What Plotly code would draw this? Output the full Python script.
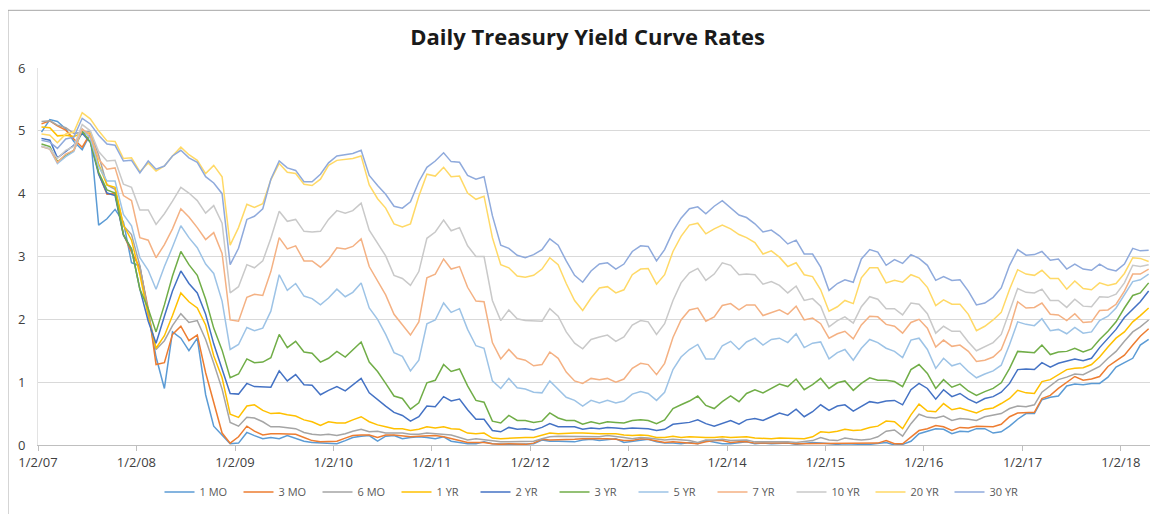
import plotly.graph_objects as go

# monthly readings (mid-month), Jan 2007 .. Apr 2018
dates = [f"{y}-{m:02d}-15" for y in range(2007, 2019) for m in range(1, 13)][:136]

series_names = ["1 MO", "3 MO", "6 MO", "1 YR", "2 YR", "3 YR", "5 YR", "7 YR", "10 YR", "20 YR", "30 YR"]
series_colors = ["#5B9BD5", "#ED7D31", "#A5A5A5", "#FFC000", "#4472C4", "#70AD47",
                 "#9DC3E6", "#F4B183", "#C9C9C9", "#FFD966", "#8FAADC"]

mo1 = [
    4.98, 5.18, 5.15, 5.03, 4.83, 4.70, 4.95, 3.50, 3.60, 3.75, 3.55, 2.90,
    2.85, 2.10, 1.40, 0.90, 1.80, 1.70, 1.50, 1.70, 0.80, 0.30, 0.15, 0.02,
    0.03, 0.20, 0.15, 0.10, 0.12, 0.10, 0.15, 0.11, 0.06, 0.04, 0.03, 0.02,
    0.02, 0.07, 0.12, 0.14, 0.15, 0.06, 0.14, 0.15, 0.10, 0.12, 0.13, 0.12,
    0.10, 0.13, 0.06, 0.04, 0.02, 0.02, 0.05, 0.02, 0.01, 0.01, 0.01, 0.01,
    0.02, 0.08, 0.06, 0.06, 0.05, 0.05, 0.08, 0.09, 0.07, 0.09, 0.10, 0.04,
    0.06, 0.07, 0.09, 0.05, 0.03, 0.03, 0.02, 0.04, 0.02, 0.07, 0.05, 0.02,
    0.02, 0.04, 0.05, 0.02, 0.03, 0.02, 0.02, 0.03, 0.01, 0.02, 0.04, 0.03,
    0.02, 0.01, 0.02, 0.01, 0.01, 0.01, 0.02, 0.04, 0.00, 0.01, 0.06, 0.18,
    0.22, 0.26, 0.25, 0.18, 0.22, 0.21, 0.26, 0.26, 0.19, 0.21, 0.30, 0.41,
    0.50, 0.50, 0.72, 0.76, 0.78, 0.94, 0.97, 0.96, 0.98, 0.98, 1.08, 1.24,
    1.31, 1.38, 1.59, 1.68,
]
mo3 = [
    5.11, 5.16, 5.08, 5.01, 4.87, 4.74, 4.96, 4.32, 3.99, 4.00, 3.35, 3.07,
    2.82, 2.17, 1.28, 1.31, 1.76, 1.89, 1.66, 1.75, 1.15, 0.69, 0.19, 0.03,
    0.13, 0.30, 0.22, 0.16, 0.18, 0.18, 0.18, 0.17, 0.12, 0.07, 0.05, 0.05,
    0.06, 0.11, 0.15, 0.16, 0.16, 0.12, 0.16, 0.16, 0.15, 0.13, 0.14, 0.14,
    0.15, 0.13, 0.10, 0.06, 0.04, 0.04, 0.04, 0.02, 0.01, 0.02, 0.01, 0.01,
    0.03, 0.09, 0.08, 0.08, 0.09, 0.09, 0.10, 0.10, 0.11, 0.10, 0.09, 0.07,
    0.07, 0.10, 0.09, 0.06, 0.04, 0.05, 0.04, 0.04, 0.02, 0.05, 0.07, 0.07,
    0.04, 0.05, 0.05, 0.03, 0.03, 0.04, 0.03, 0.03, 0.02, 0.02, 0.02, 0.03,
    0.03, 0.02, 0.03, 0.02, 0.02, 0.02, 0.03, 0.07, 0.02, 0.02, 0.13, 0.23,
    0.26, 0.31, 0.29, 0.23, 0.28, 0.27, 0.30, 0.30, 0.29, 0.33, 0.45, 0.51,
    0.51, 0.52, 0.74, 0.79, 0.90, 1.00, 1.09, 1.03, 1.05, 1.09, 1.25, 1.34,
    1.43, 1.59, 1.73, 1.85,
]
mo6 = [
    5.15, 5.16, 5.09, 5.05, 4.96, 4.98, 4.99, 4.61, 4.14, 4.07, 3.49, 3.35,
    2.85, 2.11, 1.52, 1.66, 1.90, 2.09, 1.95, 1.98, 1.68, 1.30, 0.89, 0.36,
    0.30, 0.44, 0.43, 0.37, 0.29, 0.29, 0.28, 0.26, 0.20, 0.17, 0.16, 0.17,
    0.15, 0.18, 0.22, 0.25, 0.21, 0.22, 0.19, 0.19, 0.19, 0.17, 0.17, 0.19,
    0.18, 0.16, 0.16, 0.12, 0.08, 0.10, 0.08, 0.06, 0.05, 0.05, 0.05, 0.05,
    0.06, 0.10, 0.13, 0.14, 0.14, 0.14, 0.14, 0.13, 0.13, 0.15, 0.14, 0.12,
    0.10, 0.12, 0.11, 0.09, 0.08, 0.09, 0.08, 0.07, 0.04, 0.08, 0.08, 0.09,
    0.07, 0.08, 0.08, 0.05, 0.05, 0.06, 0.06, 0.05, 0.04, 0.05, 0.07, 0.12,
    0.08, 0.07, 0.11, 0.09, 0.08, 0.09, 0.13, 0.22, 0.24, 0.14, 0.34, 0.49,
    0.44, 0.43, 0.46, 0.39, 0.42, 0.41, 0.39, 0.45, 0.47, 0.50, 0.58, 0.62,
    0.61, 0.64, 0.84, 0.94, 1.04, 1.08, 1.13, 1.12, 1.19, 1.25, 1.38, 1.49,
    1.65, 1.80, 1.88, 1.99,
]
yr1 = [
    5.06, 5.05, 4.92, 4.93, 4.91, 4.96, 4.96, 4.47, 4.14, 4.10, 3.50, 3.26,
    2.71, 2.05, 1.54, 1.74, 2.06, 2.42, 2.28, 2.18, 1.91, 1.42, 1.07, 0.49,
    0.44, 0.62, 0.64, 0.55, 0.50, 0.51, 0.48, 0.46, 0.40, 0.37, 0.31, 0.37,
    0.35, 0.35, 0.40, 0.45, 0.37, 0.32, 0.29, 0.26, 0.26, 0.23, 0.25, 0.29,
    0.27, 0.29, 0.26, 0.25, 0.19, 0.18, 0.19, 0.11, 0.10, 0.11, 0.11, 0.12,
    0.12, 0.16, 0.19, 0.18, 0.19, 0.19, 0.19, 0.18, 0.18, 0.18, 0.18, 0.16,
    0.15, 0.16, 0.15, 0.12, 0.12, 0.14, 0.12, 0.13, 0.12, 0.12, 0.12, 0.13,
    0.12, 0.12, 0.13, 0.11, 0.10, 0.10, 0.11, 0.11, 0.11, 0.10, 0.13, 0.21,
    0.20, 0.22, 0.25, 0.23, 0.24, 0.28, 0.30, 0.38, 0.37, 0.26, 0.48, 0.65,
    0.54, 0.53, 0.66, 0.56, 0.59, 0.55, 0.51, 0.57, 0.59, 0.66, 0.74, 0.87,
    0.83, 0.82, 1.01, 1.04, 1.12, 1.20, 1.22, 1.23, 1.28, 1.40, 1.56, 1.70,
    1.80, 1.96, 2.06, 2.18,
]
yr2 = [
    4.88, 4.85, 4.57, 4.67, 4.77, 4.96, 4.82, 4.31, 4.01, 3.97, 3.34, 3.12,
    2.48, 1.97, 1.62, 2.05, 2.45, 2.77, 2.57, 2.42, 2.08, 1.61, 1.21, 0.82,
    0.81, 0.98, 0.93, 0.93, 0.92, 1.18, 1.02, 1.12, 0.96, 0.95, 0.80, 0.87,
    0.93, 0.86, 0.96, 1.06, 0.83, 0.72, 0.62, 0.52, 0.47, 0.38, 0.45, 0.62,
    0.61, 0.77, 0.70, 0.73, 0.56, 0.41, 0.41, 0.23, 0.21, 0.28, 0.25, 0.26,
    0.24, 0.28, 0.34, 0.29, 0.29, 0.29, 0.25, 0.27, 0.26, 0.28, 0.27, 0.26,
    0.27, 0.27, 0.26, 0.23, 0.25, 0.33, 0.34, 0.36, 0.40, 0.34, 0.30, 0.34,
    0.39, 0.33, 0.40, 0.42, 0.39, 0.45, 0.51, 0.47, 0.57, 0.45, 0.53, 0.64,
    0.55, 0.62, 0.64, 0.54, 0.61, 0.69, 0.67, 0.70, 0.71, 0.64, 0.88, 0.98,
    0.90, 0.73, 0.88, 0.77, 0.82, 0.73, 0.67, 0.74, 0.77, 0.84, 0.98, 1.20,
    1.21, 1.20, 1.31, 1.24, 1.30, 1.34, 1.37, 1.34, 1.38, 1.55, 1.70, 1.84,
    2.03, 2.17, 2.28, 2.45,
]
yr3 = [
    4.79, 4.75, 4.51, 4.60, 4.69, 5.00, 4.82, 4.34, 4.06, 4.01, 3.35, 3.12,
    2.48, 2.17, 1.80, 2.23, 2.69, 3.08, 2.87, 2.70, 2.32, 1.86, 1.51, 1.07,
    1.13, 1.37, 1.31, 1.32, 1.39, 1.76, 1.55, 1.65, 1.48, 1.46, 1.32, 1.38,
    1.49, 1.40, 1.51, 1.64, 1.32, 1.17, 0.98, 0.78, 0.74, 0.57, 0.67, 0.99,
    1.03, 1.28, 1.17, 1.21, 0.94, 0.71, 0.68, 0.38, 0.35, 0.47, 0.39, 0.39,
    0.36, 0.38, 0.51, 0.43, 0.39, 0.39, 0.33, 0.37, 0.34, 0.37, 0.36, 0.35,
    0.39, 0.40, 0.39, 0.34, 0.40, 0.58, 0.64, 0.70, 0.78, 0.63, 0.58, 0.69,
    0.78, 0.69, 0.82, 0.88, 0.83, 0.90, 0.97, 0.93, 1.05, 0.88, 0.96, 1.06,
    0.90, 0.99, 1.02, 0.87, 0.98, 1.07, 1.03, 1.03, 1.01, 0.93, 1.20, 1.28,
    1.14, 0.90, 1.04, 0.92, 0.97, 0.86, 0.79, 0.85, 0.90, 0.99, 1.22, 1.49,
    1.48, 1.47, 1.59, 1.44, 1.48, 1.49, 1.54, 1.48, 1.53, 1.68, 1.81, 1.96,
    2.18, 2.38, 2.42, 2.58,
]
yr5 = [
    4.75, 4.71, 4.48, 4.59, 4.67, 5.03, 4.88, 4.43, 4.20, 4.20, 3.67, 3.49,
    2.98, 2.78, 2.48, 2.84, 3.15, 3.49, 3.30, 3.14, 2.88, 2.73, 2.29, 1.52,
    1.60, 1.87, 1.82, 1.86, 2.13, 2.71, 2.46, 2.57, 2.37, 2.33, 2.23, 2.34,
    2.48, 2.36, 2.43, 2.58, 2.18, 2.00, 1.76, 1.47, 1.41, 1.18, 1.35, 1.93,
    1.99, 2.26, 2.11, 2.17, 1.84, 1.58, 1.54, 1.02, 0.90, 1.06, 0.91, 0.89,
    0.84, 0.83, 1.02, 0.89, 0.76, 0.71, 0.62, 0.71, 0.67, 0.71, 0.67, 0.70,
    0.81, 0.85, 0.82, 0.71, 0.84, 1.20, 1.40, 1.52, 1.60, 1.37, 1.37, 1.58,
    1.65, 1.52, 1.64, 1.70, 1.59, 1.68, 1.70, 1.63, 1.77, 1.55, 1.62, 1.64,
    1.37, 1.47, 1.52, 1.35, 1.54, 1.68, 1.63, 1.54, 1.49, 1.39, 1.67, 1.70,
    1.52, 1.22, 1.38, 1.26, 1.30, 1.17, 1.07, 1.13, 1.18, 1.27, 1.60, 1.96,
    1.92, 1.90, 2.01, 1.82, 1.84, 1.77, 1.87, 1.78, 1.80, 1.98, 2.05, 2.18,
    2.38, 2.60, 2.63, 2.72,
]
yr7 = [
    4.75, 4.71, 4.50, 4.63, 4.69, 5.03, 4.93, 4.55, 4.39, 4.41, 3.97, 3.89,
    3.30, 3.26, 2.98, 3.19, 3.44, 3.76, 3.63, 3.46, 3.27, 3.38, 3.05, 1.99,
    1.97, 2.35, 2.40, 2.38, 2.76, 3.30, 3.12, 3.17, 2.93, 2.93, 2.83, 2.95,
    3.14, 3.12, 3.16, 3.28, 2.84, 2.61, 2.39, 2.08, 1.91, 1.75, 1.96, 2.66,
    2.72, 2.96, 2.80, 2.84, 2.51, 2.29, 2.28, 1.63, 1.37, 1.52, 1.38, 1.35,
    1.26, 1.28, 1.48, 1.38, 1.16, 1.02, 0.98, 1.06, 1.04, 1.06, 1.00, 1.05,
    1.22, 1.30, 1.28, 1.12, 1.30, 1.71, 1.99, 2.15, 2.18, 1.97, 2.04, 2.22,
    2.25, 2.15, 2.23, 2.23, 2.06, 2.10, 2.15, 2.08, 2.21, 1.99, 2.02, 1.93,
    1.70, 1.77, 1.81, 1.69, 1.91, 2.05, 2.04, 1.92, 1.89, 1.78, 1.95, 2.00,
    1.86, 1.56, 1.67, 1.57, 1.59, 1.49, 1.33, 1.35, 1.40, 1.52, 1.85, 2.28,
    2.18, 2.19, 2.26, 2.08, 2.07, 1.98, 2.09, 1.95, 1.96, 2.14, 2.15, 2.24,
    2.45, 2.72, 2.72, 2.80,
]
yr10 = [
    4.76, 4.72, 4.56, 4.69, 4.75, 5.10, 5.00, 4.67, 4.52, 4.53, 4.15, 4.10,
    3.74, 3.74, 3.51, 3.68, 3.88, 4.10, 4.01, 3.89, 3.69, 3.81, 3.53, 2.42,
    2.52, 2.87, 2.82, 2.93, 3.29, 3.72, 3.56, 3.59, 3.40, 3.39, 3.40, 3.59,
    3.73, 3.69, 3.73, 3.85, 3.42, 3.20, 3.01, 2.70, 2.65, 2.54, 2.76, 3.29,
    3.39, 3.58, 3.41, 3.46, 3.17, 3.00, 3.00, 2.30, 1.98, 2.15, 2.01, 1.98,
    1.97, 1.97, 2.17, 2.05, 1.80, 1.62, 1.53, 1.68, 1.72, 1.75, 1.65, 1.72,
    1.91, 1.98, 1.96, 1.76, 1.93, 2.30, 2.58, 2.74, 2.81, 2.62, 2.72, 2.90,
    2.86, 2.71, 2.72, 2.71, 2.56, 2.60, 2.54, 2.42, 2.53, 2.30, 2.33, 2.21,
    1.88, 1.98, 2.04, 1.94, 2.20, 2.36, 2.32, 2.17, 2.17, 2.07, 2.26, 2.24,
    2.09, 1.78, 1.89, 1.81, 1.81, 1.64, 1.50, 1.56, 1.63, 1.76, 2.14, 2.49,
    2.43, 2.42, 2.48, 2.30, 2.30, 2.19, 2.32, 2.21, 2.20, 2.36, 2.35, 2.40,
    2.58, 2.86, 2.84, 2.87,
]
yr20 = [
    4.95, 4.93, 4.81, 4.95, 4.98, 5.29, 5.19, 5.00, 4.84, 4.83, 4.56, 4.57,
    4.35, 4.49, 4.36, 4.44, 4.60, 4.74, 4.62, 4.53, 4.32, 4.45, 4.27, 3.18,
    3.46, 3.83, 3.78, 3.84, 4.22, 4.48, 4.34, 4.32, 4.15, 4.13, 4.23, 4.45,
    4.53, 4.55, 4.56, 4.60, 4.14, 3.92, 3.77, 3.52, 3.47, 3.52, 3.96, 4.31,
    4.28, 4.42, 4.27, 4.28, 4.01, 3.91, 3.96, 3.30, 2.87, 2.82, 2.69, 2.67,
    2.70, 2.80, 2.98, 2.87, 2.57, 2.30, 2.14, 2.34, 2.50, 2.52, 2.42, 2.47,
    2.71, 2.80, 2.81, 2.56, 2.71, 3.08, 3.32, 3.50, 3.53, 3.36, 3.44, 3.50,
    3.44, 3.35, 3.30, 3.22, 3.04, 3.09, 2.99, 2.84, 2.90, 2.71, 2.68, 2.47,
    2.13, 2.20, 2.30, 2.25, 2.66, 2.82, 2.82, 2.58, 2.62, 2.59, 2.71, 2.66,
    2.51, 2.22, 2.31, 2.24, 2.24, 2.08, 1.82, 1.89, 1.99, 2.11, 2.48, 2.79,
    2.72, 2.70, 2.78, 2.65, 2.65, 2.48, 2.61, 2.49, 2.47, 2.58, 2.54, 2.57,
    2.73, 2.98, 2.97, 2.92,
]
yr30 = [
    4.85, 4.82, 4.72, 4.87, 4.90, 5.20, 5.11, 4.93, 4.79, 4.77, 4.52, 4.53,
    4.33, 4.52, 4.39, 4.44, 4.60, 4.69, 4.57, 4.50, 4.27, 4.17, 4.00, 2.87,
    3.13, 3.59, 3.64, 3.76, 4.23, 4.52, 4.41, 4.37, 4.19, 4.19, 4.31, 4.49,
    4.60, 4.62, 4.64, 4.69, 4.29, 4.13, 3.99, 3.80, 3.77, 3.87, 4.19, 4.42,
    4.52, 4.65, 4.51, 4.50, 4.29, 4.23, 4.27, 3.65, 3.18, 3.13, 3.02, 2.98,
    3.03, 3.11, 3.28, 3.18, 2.93, 2.70, 2.59, 2.77, 2.88, 2.90, 2.80, 2.88,
    3.08, 3.17, 3.16, 2.93, 3.11, 3.40, 3.61, 3.76, 3.79, 3.68, 3.80, 3.89,
    3.77, 3.66, 3.62, 3.52, 3.39, 3.42, 3.33, 3.20, 3.26, 3.04, 3.04, 2.83,
    2.46, 2.57, 2.63, 2.59, 2.96, 3.11, 3.07, 2.86, 2.95, 2.89, 3.03, 2.97,
    2.86, 2.62, 2.68, 2.62, 2.63, 2.45, 2.23, 2.26, 2.35, 2.50, 2.86, 3.11,
    3.02, 3.03, 3.08, 2.94, 2.96, 2.80, 2.88, 2.80, 2.78, 2.88, 2.80, 2.77,
    2.88, 3.13, 3.09, 3.10,
]

all_series = [mo1, mo3, mo6, yr1, yr2, yr3, yr5, yr7, yr10, yr20, yr30]

tick_dates = [f"{y}-01-02" for y in range(2007, 2019)]
tick_labels = [f"1/2/{str(y)[2:]}" for y in range(2007, 2019)]

fig = go.Figure()
for name, vals, col in zip(series_names, all_series, series_colors):
    fig.add_trace(go.Scatter(
        x=dates, y=vals, name=name, mode="lines",
        line=dict(color=col, width=1.5)
    ))

# the page body adds an 8px margin, so the figure is drawn 8px smaller
fig.update_layout(
    width=1150,
    height=506,
    template="plotly_white",
    paper_bgcolor="white",
    plot_bgcolor="white",
    font=dict(family="Open Sans, sans-serif", size=12, color="#595959"),
    title=dict(
        text="<b>Daily Treasury Yield Curve Rates</b>",
        x=0.504, xanchor="center", y=0.943, yanchor="middle",
        font=dict(size=22, color="#1a1a1a", family="Open Sans, sans-serif")
    ),
    margin=dict(l=30, r=8, t=60, b=68),
    showlegend=True,
    legend=dict(
        orientation="h", x=0.5, xanchor="center", y=-0.122, yanchor="middle",
        font=dict(size=11, color="#595959"), entrywidth=34,
        traceorder="normal", itemwidth=30
    ),
    shapes=[dict(
        type="rect", xref="paper", yref="paper",
        x0=-0.027, x1=1.0063, y0=-0.25, y1=1.153,
        line=dict(color="#A6A6A6", width=1), layer="below"
    )],
)

fig.update_xaxes(
    type="date",
    range=["2007-01-02", "2018-04-20"],
    tickvals=tick_dates, ticktext=tick_labels,
    showgrid=False, showline=True, linecolor="#BFBFBF", linewidth=1,
    ticks="outside", ticklen=5, tickcolor="#BFBFBF",
    tickfont=dict(size=13, color="#404040"), zeroline=False,
    automargin=False
)
fig.update_yaxes(
    range=[0, 6], dtick=1, tick0=0,
    showgrid=True, gridcolor="#D9D9D9", gridwidth=1,
    showline=True, linecolor="#E3E3E3", linewidth=1, zeroline=False,
    ticks="outside", ticklen=9, tickcolor="rgba(0,0,0,0)",
    tickfont=dict(size=13, color="#404040"),
    automargin=False
)

fig.write_html("out.html")
